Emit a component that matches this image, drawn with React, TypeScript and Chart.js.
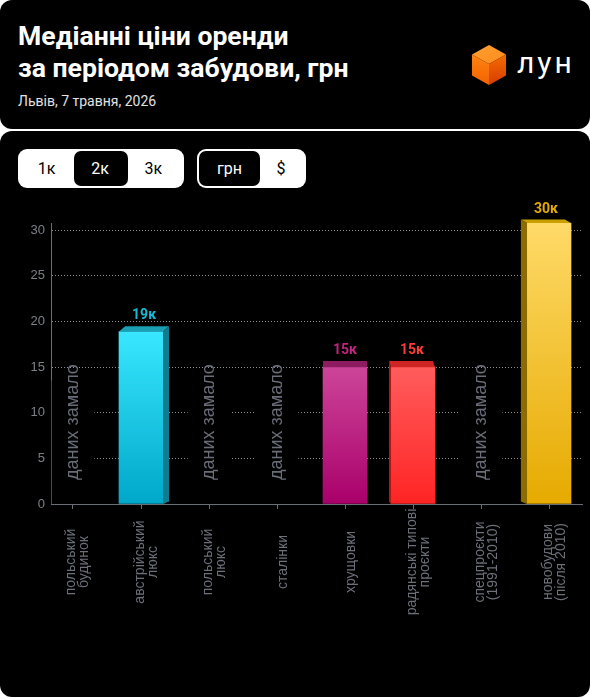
import React, { useEffect, useRef } from 'react';
import { Chart, registerables } from 'chart.js';

Chart.register(...registerables);

// ---------- data ----------
const categories: string[][] = [
  ['польський', 'будинок'],
  ['австрійський', 'люкс'],
  ['польський', 'люкс'],
  ['сталінки'],
  ['хрущовки'],
  ['радянські типові', 'проєкти'],
  ['спецпроєкти', '(1991-2010)'],
  ['новобудови', '(після 2010)'],
];
const values: (number | null)[] = [null, 18.9, null, null, 15.0, 15.0, null, 30.8];
const valueLabels: string[] = ['', '19к', '', '', '15к', '15к', '', '30к'];
const yTickValues: number[] = [0, 5, 10, 15, 20, 25, 30];
const noDataText = 'даних замало';
const noDataMask = 13.5;

// ---------- styles ----------
const topColors = [null, '#38e7ff', null, null, '#cc4599', '#ff5c5c', null, '#ffda68'];
const bottomColors = [null, '#00a7c9', null, null, '#a9006a', '#ff2424', null, '#e6aa00'];
const capColors = [null, '#1a9eb4', null, null, '#8d1b5f', '#cf2424', null, '#caa000'];
const sideColors = [null, '#127c8e', null, null, '#7a1050', '#b51515', null, '#8c6c00'];
const labelColors = [null, '#1ab6d4', null, null, '#c0247f', '#ff3a3a', null, '#e3aa00'];

const CANVAS_W = 590;
const CANVAS_H = 502;
const PLOT_TOP = 28;
const PLOT_BOTTOM = 309;
const VP_X = 345;
const VP_Y = -163;

const bar3dPlugin = {
  id: 'bar3d',
  beforeDatasetsDraw(chart: any) {
    const ctx = chart.ctx;
    const xs = chart.scales.x;
    const ys = chart.scales.y;
    const base = ys.getPixelForValue(0);
    ctx.save();
    ctx.fillStyle = '#6c707a';
    ctx.font = '14px "Liberation Sans", Arial, sans-serif';
    ctx.textAlign = 'center';
    ctx.textBaseline = 'alphabetic';
    categories.forEach((lines, i) => {
      const px = xs.getPixelForValue(i);
      const n = lines.length;
      lines.forEach((line, j) => {
        const off = (n > 1 ? 9 : 10) + (j - (n - 1) / 2) * 13;
        ctx.save();
        ctx.translate(px + off, base + 58);
        ctx.rotate(-Math.PI / 2);
        ctx.fillText(line, 0, 0);
        ctx.restore();
      });
    });
    ctx.restore();
  },
  afterDatasetsDraw(chart: any) {
    const ctx = chart.ctx;
    const xs = chart.scales.x;
    const ys = chart.scales.y;
    const base = ys.getPixelForValue(0);
    const meta = chart.getDatasetMeta(1);
    ctx.save();
    meta.data.forEach((bar: any, i: number) => {
      if (values[i] == null) return;
      const { x, y, width } = bar.getProps(['x', 'y', 'width'], true);
      const xl = x - width / 2;
      const xr = x + width / 2;
      const dx = (VP_X - x) * 0.03;
      const dy = -(y - VP_Y) * 0.018;
      // top face
      ctx.fillStyle = capColors[i];
      ctx.beginPath();
      ctx.moveTo(xl, y);
      ctx.lineTo(xr, y);
      ctx.lineTo(xr + dx, y + dy);
      ctx.lineTo(xl + dx, y + dy);
      ctx.closePath();
      ctx.fill();
      // side face
      if (Math.abs(dx) > 0.6) {
        const sx = dx > 0 ? xr : xl;
        ctx.fillStyle = sideColors[i];
        ctx.beginPath();
        ctx.moveTo(sx, y);
        ctx.lineTo(sx + dx, y + dy);
        ctx.lineTo(sx + dx, base - 2.5);
        ctx.lineTo(sx, base);
        ctx.closePath();
        ctx.fill();
      }
      // value label
      ctx.fillStyle = labelColors[i];
      ctx.font = 'bold 14px Roboto, sans-serif';
      ctx.textAlign = 'center';
      ctx.textBaseline = 'alphabetic';
      ctx.fillText(valueLabels[i], x + dx / 2, y + dy - 7);
    });
    // "no data" labels
    ctx.fillStyle = '#686d78';
    ctx.font = '18px "Liberation Sans", Arial, sans-serif';
    ctx.textAlign = 'left';
    ctx.textBaseline = 'alphabetic';
    values.forEach((v, i) => {
      if (v != null) return;
      const px = xs.getPixelForValue(i);
      ctx.save();
      ctx.translate(px + 5, base - 24);
      ctx.rotate(-Math.PI / 2);
      ctx.fillText(noDataText, 0, 0);
      ctx.restore();
    });
    ctx.restore();
  },
};

function ChartCanvas() {
  const ref = useRef<HTMLCanvasElement | null>(null);
  useEffect(() => {
    if (!ref.current) return;
    const chart = new Chart(ref.current, {
      type: 'bar',
      data: {
        datasets: [
          {
            label: 'mask',
            data: values.map((v, i) => ({ x: i, y: v == null ? noDataMask : null })) as any,
            backgroundColor: '#000000',
            barThickness: 42,
            grouped: false,
            borderWidth: 0,
          } as any,
          {
            label: 'values',
            data: values.map((v, i) => ({ x: i, y: v })) as any,
            grouped: false,
            barThickness: 44,
            borderWidth: 0,
            backgroundColor: (c: any) => {
              const i = c.dataIndex;
              if (i == null || values[i] == null) return 'transparent';
              const ch = c.chart;
              const ys = ch.scales && ch.scales.y;
              if (!ys || !ch.chartArea) return topColors[i];
              const g = ch.ctx.createLinearGradient(0, ys.getPixelForValue(values[i]), 0, ys.getPixelForValue(0));
              g.addColorStop(0, topColors[i]);
              g.addColorStop(1, bottomColors[i]);
              return g;
            },
          } as any,
        ],
      },
      options: {
        animation: false,
        responsive: false,
        devicePixelRatio: 1,
        layout: { padding: { top: PLOT_TOP, right: 8, left: 0, bottom: 0 } },
        plugins: { legend: { display: false }, tooltip: { enabled: false } },
        scales: {
          x: {
            type: 'linear',
            min: -0.3235,
            max: 7.485,
            offset: false,
            afterBuildTicks: (s: any) => {
              s.ticks = categories.map((_, i) => ({ value: i }));
            },
            afterFit: (s: any) => {
              s.height = CANVAS_H - PLOT_BOTTOM;
            },
            ticks: { display: false },
            grid: {
              display: true,
              drawOnChartArea: false,
              drawTicks: true,
              tickLength: 5,
              color: '#6a6e76',
              offset: false,
            },
            border: { display: true, color: '#6a6e76', width: 1 },
          } as any,
          y: {
            min: 0,
            max: 30.8,
            afterBuildTicks: (s: any) => {
              s.ticks = yTickValues.map((v) => ({ value: v }));
            },
            afterFit: (s: any) => {
              s.width = 51;
            },
            ticks: {
              color: '#7d8087',
              padding: 6,
              font: { family: '"Liberation Sans", Arial, sans-serif', size: 13 },
            },
            grid: { color: '#8a8d94', drawTicks: false, lineWidth: 1 },
            border: { display: true, color: '#6a6e76', width: 1, dash: [1, 2] },
          } as any,
        },
      },
      plugins: [bar3dPlugin],
    });
    return () => chart.destroy();
  }, []);
  return (
    <canvas
      ref={ref}
      width={CANVAS_W}
      height={CANVAS_H}
      style={{ position: 'absolute', left: 0, top: 64, width: CANVAS_W, height: CANVAS_H }}
    />
  );
}

export default function App() {
  const font = 'Roboto, "Noto Sans", sans-serif';
  return (
    <div style={{ position: 'absolute', left: 0, top: 0, width: 590, height: 700, background: '#ffffff', fontFamily: font }}>
      {/* header card */}
      <div style={{ position: 'absolute', left: 0, top: 0, width: 590, height: 129, background: '#000', borderRadius: 12 }}>
        <div style={{ position: 'absolute', left: 18, top: 20, color: '#fff', fontWeight: 700, fontSize: 26.6, lineHeight: '32px', whiteSpace: 'nowrap' }}>
          Медіанні ціни оренди
          <br />
          за періодом забудови, грн
        </div>
        <div style={{ position: 'absolute', left: 18, top: 93, color: '#e2e2e2', fontSize: 14, lineHeight: '16px', whiteSpace: 'nowrap' }}>
          Львів, 7 травня, 2026
        </div>
        <svg style={{ position: 'absolute', left: 466, top: 40 }} width={120} height={52} viewBox="466 40 120 52">
          <defs>
            <linearGradient id="cubeTop" x1="0" y1="0" x2="1" y2="1">
              <stop offset="0" stopColor="#ffa033" />
              <stop offset="1" stopColor="#ff8a1a" />
            </linearGradient>
            <linearGradient id="cubeLeft" x1="0" y1="0" x2="0" y2="1">
              <stop offset="0" stopColor="#ff8412" />
              <stop offset="1" stopColor="#f36200" />
            </linearGradient>
            <linearGradient id="cubeRight" x1="0" y1="0" x2="0" y2="1">
              <stop offset="0" stopColor="#f56c00" />
              <stop offset="1" stopColor="#d63c00" />
            </linearGradient>
          </defs>
          <polygon points="489,45 506,54.5 489,64 472,54.5" fill="url(#cubeTop)" />
          <polygon points="472,54.5 489,64 489,85 472,75.5" fill="url(#cubeLeft)" />
          <polygon points="489,64 506,54.5 506,75.5 489,85" fill="url(#cubeRight)" />
          <text x={517} y={73} fill="#ffffff" fontFamily={font} fontSize={30} letterSpacing={3}>
            лун
          </text>
        </svg>
      </div>

      {/* chart card */}
      <div style={{ position: 'absolute', left: 0, top: 131, width: 590, height: 566, background: '#000', borderRadius: 12 }}>
        <div style={{ position: 'absolute', left: 18, top: 18, width: 166, height: 39, background: '#fff', borderRadius: 9 }}>
          <div style={{ position: 'absolute', left: 56, top: 2, width: 54, height: 35, background: '#000', borderRadius: 7 }} />
          {[
            { t: '1к', c: 28.7, col: '#000' },
            { t: '2к', c: 82, col: '#fff' },
            { t: '3к', c: 135.3, col: '#000' },
          ].map((b) => (
            <div key={b.t} style={{ position: 'absolute', left: b.c - 25, width: 50, top: 0, height: 39, lineHeight: '39px', textAlign: 'center', fontSize: 16, color: b.col }}>
              {b.t}
            </div>
          ))}
        </div>
        <div style={{ position: 'absolute', left: 197, top: 18, width: 109, height: 39, background: '#fff', borderRadius: 9 }}>
          <div style={{ position: 'absolute', left: 2, top: 2, width: 61, height: 35, background: '#000', borderRadius: 7 }} />
          {[
            { t: 'грн', c: 32.5, col: '#fff' },
            { t: '$', c: 84, col: '#000' },
          ].map((b) => (
            <div key={b.t} style={{ position: 'absolute', left: b.c - 25, width: 50, top: 0, height: 39, lineHeight: '39px', textAlign: 'center', fontSize: 16, color: b.col }}>
              {b.t}
            </div>
          ))}
        </div>
        <ChartCanvas />
      </div>
    </div>
  );
}
